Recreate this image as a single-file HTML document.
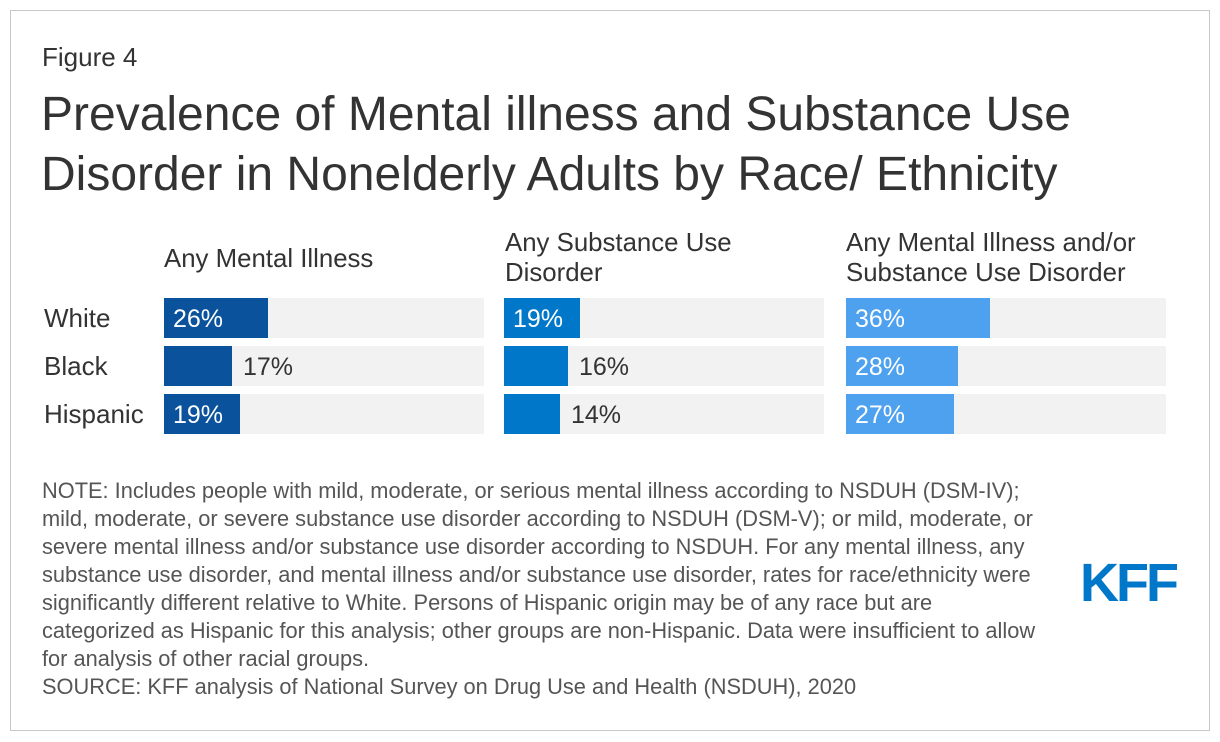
<!DOCTYPE html>
<html><head><meta charset="utf-8">
<style>
body{margin:0;width:1220px;height:742px;background:#fff;font-family:"Liberation Sans",Arial,sans-serif;position:relative;overflow:hidden}
.frame{position:absolute;left:10px;top:10px;width:1198px;height:719px;border:1px solid #c8c8c8}
.t{position:absolute;color:#333;white-space:nowrap}
#fig{left:42px;top:42px;font-size:26px}
#title{left:41px;top:85px;font-size:48px;line-height:60px;color:#333}
.ph{font-size:25.8px;line-height:30px}
#note{left:42px;top:477px;font-size:21.8px;line-height:28px;color:#555}
#kff{left:1080px;top:552px;font-size:54px;font-weight:bold;color:#0077c8;letter-spacing:-3px}
</style></head><body>
<div class="frame"></div>
<div class="t" id="fig">Figure 4</div>
<div class="t" id="title">Prevalence of Mental illness and Substance Use<br>Disorder in Nonelderly Adults by Race/ Ethnicity</div>
<div class="t ph" style="left:164px;top:244px">Any Mental Illness</div>
<div class="t ph" style="left:505px;top:228px">Any Substance Use<br>Disorder</div>
<div class="t ph" style="left:846px;top:228px">Any Mental Illness and/or<br>Substance Use Disorder</div>
<svg id="chart" width="1220" height="742" style="position:absolute;left:0;top:0"></svg>
<div class="t" id="note">NOTE: Includes people with mild, moderate, or serious mental illness according to NSDUH (DSM-IV);<br>mild, moderate, or severe substance use disorder according to NSDUH (DSM-V); or mild, moderate, or<br>severe mental illness and/or substance use disorder according to NSDUH. For any mental illness, any<br>substance use disorder, and mental illness and/or substance use disorder, rates for race/ethnicity were<br>significantly different relative to White. Persons of Hispanic origin may be of any race but are<br>categorized as Hispanic for this analysis; other groups are non-Hispanic. Data were insufficient to allow<br>for analysis of other racial groups.<br>SOURCE: KFF analysis of National Survey on Drug Use and Health (NSDUH), 2020</div>
<div class="t" id="kff">KFF</div>
<script>
const categories=["White","Black","Hispanic"];
const mentalIllness=[26,17,19];
const substanceUse=[19,16,14];
const either=[36,28,27];
const series=[mentalIllness,substanceUse,either];
const colors=["#0a529c","#0077c8","#4ea1ee"];
const panelX=[164,504,846];
const panelW=320, scaleMax=80, rowTop=298, rowStep=48, barH=40;
const svg=document.getElementById('chart');
const NS="http://www.w3.org/2000/svg";
function x(v){return v/scaleMax*panelW;}
function y(i){return rowTop+i*rowStep;}
categories.forEach((c,i)=>{
  const t=document.createElementNS(NS,'text');
  t.setAttribute('x',44);t.setAttribute('y',y(i)+29);
  t.setAttribute('font-size','26');t.setAttribute('fill','#333');
  
  
  t.textContent=c;svg.appendChild(t);
});
series.forEach((s,p)=>{
  s.forEach((v,i)=>{
    const bg=document.createElementNS(NS,'rect');
    bg.setAttribute('x',panelX[p]);bg.setAttribute('y',y(i));
    bg.setAttribute('width',panelW);bg.setAttribute('height',barH);
    bg.setAttribute('fill','#f2f2f2');
    
    
    svg.appendChild(bg);
    const r=document.createElementNS(NS,'rect');
    r.setAttribute('x',panelX[p]);r.setAttribute('y',y(i));
    r.setAttribute('width',x(v));r.setAttribute('height',barH);
    r.setAttribute('fill',colors[p]);
    
    
    svg.appendChild(r);
    const t=document.createElementNS(NS,'text');
    const inside=v>=18;
    t.setAttribute('x',inside?panelX[p]+9:panelX[p]+x(v)+11);
    t.setAttribute('y',y(i)+29);
    t.setAttribute('font-size','25');
    t.setAttribute('fill',inside?'#fff':'#333');
    
    
    t.textContent=v+'%';svg.appendChild(t);
  });
});
</script>
</body></html>
